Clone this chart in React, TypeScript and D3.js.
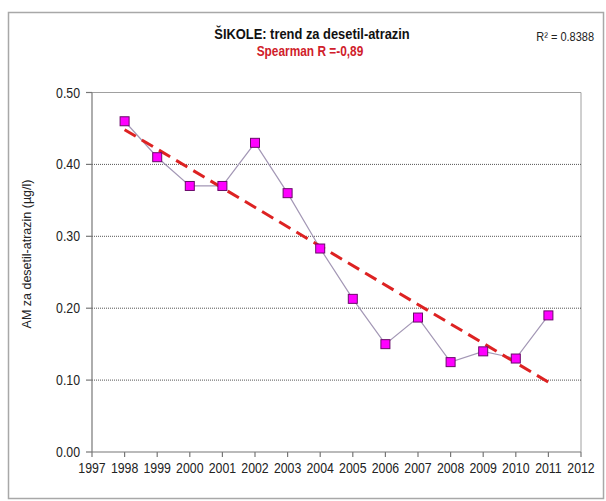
import React from "react";
import * as d3 from "d3";

const years = [1998, 1999, 2000, 2001, 2002, 2003, 2004, 2005, 2006, 2007, 2008, 2009, 2010, 2011];
const values = [0.46, 0.41, 0.37, 0.37, 0.43, 0.36, 0.283, 0.213, 0.15, 0.187, 0.125, 0.14, 0.13, 0.19];
const xTicks = [1997, 1998, 1999, 2000, 2001, 2002, 2003, 2004, 2005, 2006, 2007, 2008, 2009, 2010, 2011, 2012];
const yTicks = [0, 0.1, 0.2, 0.3, 0.4, 0.5];
const title = "ŠIKOLE: trend za desetil-atrazin";
const subtitle = "Spearman R =-0,89";
const r2Label = "R² = 0.8388";
const yLabel = "AM za desetil-atrazin (µg/l)";

const FONT = "'Liberation Sans', Arial, sans-serif";

function CText(props: { x: number; y: number; sx: number; anchor?: string; size: number; weight?: string; fill: string; children: React.ReactNode }) {
  const { x, y, sx, anchor = "start", size, weight = "normal", fill, children } = props;
  return (
    <text transform={`translate(${x},${y}) scale(${sx},1)`} textAnchor={anchor} fontFamily={FONT} fontSize={size} fontWeight={weight} fill={fill}>
      {children}
    </text>
  );
}

export default function App() {
  const W = 606, H = 501;
  const left = 92, right = 581, top = 92.5, bottom = 452;
  const x = d3.scaleLinear().domain([1997, 2012]).range([left, right]);
  const y = d3.scaleLinear().domain([0, 0.5]).range([bottom, top]);

  // least-squares trend
  const mx = d3.mean(years)!;
  const my = d3.mean(values)!;
  let sxy = 0, sxx = 0;
  years.forEach((yr, i) => { sxy += (yr - mx) * (values[i] - my); sxx += (yr - mx) ** 2; });
  const slope = sxy / sxx;
  const trend = (yr: number) => my + slope * (yr - mx);
  const x0 = years[0], x1 = years[years.length - 1];

  const line = d3.line<number>().x((_, i) => x(years[i])).y((v) => y(v));

  return (
    <svg width={W} height={H} style={{ position: "absolute", left: 0, top: 0, background: "#fff" }}>
      <rect x={0} y={0} width={W} height={H} fill="#fff" />
      <rect x={8.5} y={12.5} width={595} height={486} fill="#fff" stroke="#a8a8a8" strokeWidth={1.5} />
      <CText x={312} y={39} sx={0.86} anchor="middle" size={15} weight="bold" fill="#111">{title}</CText>
      <CText x={310} y={56} sx={0.82} anchor="middle" size={14.5} weight="bold" fill="#d0202a">{subtitle}</CText>
      <CText x={594} y={41} sx={0.88} anchor="end" size={12.5} fill="#222">{r2Label}</CText>

      {/* plot frame: top and right */}
      <line x1={left} x2={right} y1={top} y2={top} stroke="#a0a0a0" strokeWidth={1} />
      <line x1={right} x2={right} y1={top} y2={bottom} stroke="#a0a0a0" strokeWidth={1} />

      {/* gridlines */}
      {yTicks.filter((t) => t > 0 && t < 0.5).map((t) => (
        <line key={"g" + t} x1={left} x2={right} y1={y(t)} y2={y(t)} stroke="#555" strokeWidth={1} strokeDasharray="1,1" />
      ))}

      {/* axes */}
      <line x1={left} x2={left} y1={top} y2={bottom} stroke="#777" strokeWidth={1.2} />
      <line x1={left} x2={right} y1={bottom} y2={bottom} stroke="#777" strokeWidth={1.2} />
      {yTicks.map((t) => (
        <g key={"y" + t}>
          <line x1={left - 6} x2={left} y1={y(t)} y2={y(t)} stroke="#777" strokeWidth={1.2} />
          <CText x={80} y={y(t) + 5} sx={0.88} anchor="end" size={14} fill="#222">{t.toFixed(2)}</CText>
        </g>
      ))}
      {xTicks.map((t) => (
        <g key={"x" + t}>
          <line x1={x(t)} x2={x(t)} y1={bottom} y2={bottom + 5} stroke="#777" strokeWidth={1.2} />
          <CText x={x(t)} y={bottom + 21} sx={0.88} anchor="middle" size={14} fill="#222">{t}</CText>
        </g>
      ))}
      <text transform={`translate(31,${254}) rotate(-90)`} textAnchor="middle" fontFamily={FONT} fontSize={12.5} fill="#222">{yLabel}</text>

      {/* data line */}
      <path d={line(values)!} fill="none" stroke="#a397b5" strokeWidth={1.2} />
      {/* trend */}
      <line x1={x(x0)} y1={y(trend(x0))} x2={x(x1)} y2={y(trend(x1))} stroke="#dd2222" strokeWidth={3} strokeDasharray="13,7" />
      {/* markers */}
      {values.map((v, i) => (
        <rect key={"m" + i} x={x(years[i]) - 4.5} y={y(v) - 4.5} width={9} height={9} fill="#ff00ff" stroke="#6a0a6a" strokeWidth={1} />
      ))}
    </svg>
  );
}
